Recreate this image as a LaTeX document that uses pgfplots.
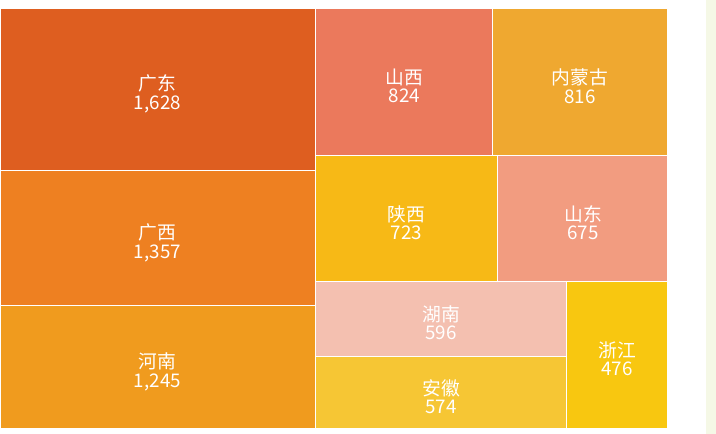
\documentclass[border=0pt]{standalone}
\usepackage{pgfplots}
\pgfplotsset{compat=1.18}
\usepackage{fontspec}
\setmainfont{Liberation Sans}
\newfontfamily\cjk{Noto Sans CJK SC}
\definecolor{cGD}{RGB}{222,94,32}
\definecolor{cGX}{RGB}{238,128,33}
\definecolor{cHeN}{RGB}{240,155,30}
\definecolor{cSX}{RGB}{235,121,92}
\definecolor{cNM}{RGB}{239,168,48}
\definecolor{cShX}{RGB}{247,185,22}
\definecolor{cSD}{RGB}{242,156,128}
\definecolor{cHuN}{RGB}{244,192,176}
\definecolor{cAH}{RGB}{246,198,52}
\definecolor{cZJ}{RGB}{248,199,16}
\definecolor{cPanel}{RGB}{245,248,230}
\tikzset{lbl/.style={font=\cjk\fontsize{9.4}{9.3}\selectfont, text=white, align=center, inner sep=0pt}}
\begin{document}
\begin{tikzpicture}
\begin{axis}[hide axis, scale only axis, width=358pt, height=217pt,
  xmin=0, xmax=716, ymin=0, ymax=434, clip=false]
% background
\addplot[fill=white, draw=none] coordinates {(0,0) (716,0) (716,434) (0,434)} -- cycle;
\addplot[fill=cPanel, draw=none] coordinates {(706,0) (716,0) (716,434) (706,434)} -- cycle;
% tiles (x0,x1,y0,y1 in layout units)
\addplot[fill=cGD, draw=white, line width=0.5pt] coordinates {(0,263) (315,263) (315,425) (0,425)} -- cycle;
\addplot[fill=cGX, draw=white, line width=0.5pt] coordinates {(0,128) (315,128) (315,263) (0,263)} -- cycle;
\addplot[fill=cHeN, draw=white, line width=0.5pt] coordinates {(0,5) (315,5) (315,128) (0,128)} -- cycle;
\addplot[fill=cSX, draw=white, line width=0.5pt] coordinates {(315,278) (492,278) (492,425) (315,425)} -- cycle;
\addplot[fill=cNM, draw=white, line width=0.5pt] coordinates {(492,278) (667,278) (667,425) (492,425)} -- cycle;
\addplot[fill=cShX, draw=white, line width=0.5pt] coordinates {(315,152) (497,152) (497,278) (315,278)} -- cycle;
\addplot[fill=cSD, draw=white, line width=0.5pt] coordinates {(497,152) (667,152) (667,278) (497,278)} -- cycle;
\addplot[fill=cHuN, draw=white, line width=0.5pt] coordinates {(315,77) (566,77) (566,152) (315,152)} -- cycle;
\addplot[fill=cAH, draw=white, line width=0.5pt] coordinates {(315,5) (566,5) (566,77) (315,77)} -- cycle;
\addplot[fill=cZJ, draw=white, line width=0.5pt] coordinates {(566,5) (667,5) (667,152) (566,152)} -- cycle;
% labels
\node[lbl] at (axis cs:157,340) {广东\\1,628};
\node[lbl] at (axis cs:157,191) {广西\\1,357};
\node[lbl] at (axis cs:157,62) {河南\\1,245};
\node[lbl] at (axis cs:404,348) {山西\\824};
\node[lbl] at (axis cs:580,348) {内蒙古\\816};
\node[lbl] at (axis cs:406,211) {陕西\\723};
\node[lbl] at (axis cs:583,211) {山东\\675};
\node[lbl] at (axis cs:441,111) {湖南\\596};
\node[lbl] at (axis cs:441,37) {安徽\\574};
\node[lbl] at (axis cs:617,75) {浙江\\476};
\end{axis}
\end{tikzpicture}
\end{document}
